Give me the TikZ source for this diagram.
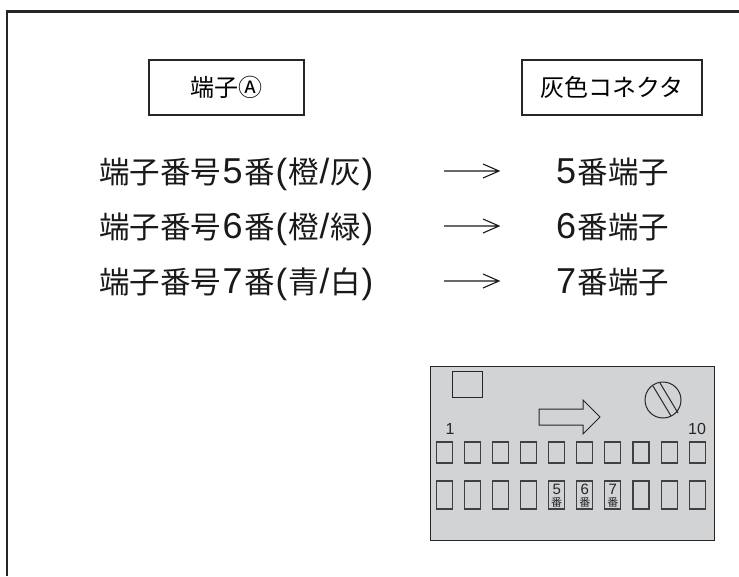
\documentclass[tikz,border=0pt]{standalone}
\usepackage{fontspec}
\setmainfont{Noto Sans CJK JP}
\newfontfamily\latinfont{Liberation Sans}
\newcommand{\dig}[1]{\kern1.5pt{\latinfont\fontsize{36}{36}\selectfont #1}\kern1.5pt}
\newcommand{\pun}[1]{\kern0.9pt{\latinfont\fontsize{35}{35}\selectfont #1}\kern0.9pt}
\definecolor{panelgrey}{HTML}{D2D3D5}
\tikzset{
  x=1pt,y=-1pt,
  frameline/.style={line width=2.6pt,draw=black!85},
  labelbox/.style={draw=black!85,line width=1.3pt,minimum height=55pt,inner sep=0pt,font=\fontsize{24}{26}\selectfont},
  maintext/.style={font=\fontsize{30.5}{32}\selectfont,text=black!90,inner sep=0pt,anchor=base west},
  lead/.style={draw=black!90,line width=1.1pt},
  part/.style={draw=black!85,line width=1pt},
  slot/.style={draw=black!75,line width=1.1pt,fill=panelgrey,inner sep=0pt,minimum width=16pt},
  tiny/.style={font=\latinfont\fontsize{16}{16}\selectfont,text=black!85,inner sep=0pt},
  slotnum/.style={font=\latinfont\fontsize{15}{15}\selectfont,text=black!85,inner sep=0pt},
  slotkan/.style={font=\fontsize{11}{11}\selectfont,text=black!85,inner sep=0pt},
}
\begin{document}
\begin{tikzpicture}
\useasboundingbox (0,0) rectangle (739,576);
\draw[frameline] (7,576) -- (7,11.5) -- (739,11.5);
\node[labelbox,minimum width=155pt] (a) at (226.5,87.5) {端子Ⓐ};
\node[labelbox,minimum width=180pt] (b) at (612,87.5) {灰色コネクタ};
\node[maintext] (l5) at (99,183.5) {端子番号\dig{5}番\pun{(}橙\pun{/}灰\pun{)}};
\node[maintext] (l6) at (99,238.5) {端子番号\dig{6}番\pun{(}橙\pun{/}緑\pun{)}};
\node[maintext] (l7) at (99,293.5) {端子番号\dig{7}番\pun{(}青\pun{/}白\pun{)}};
\node[maintext] (r5) at (554.5,183.5) {\dig{5}番端子};
\node[maintext] (r6) at (554.5,238.5) {\dig{6}番端子};
\node[maintext] (r7) at (554.5,293.5) {\dig{7}番端子};
\foreach \y in {171,226,281}{
  \draw[lead] (444,\y) -- (498,\y) (483,\y-7) -- (499,\y) -- (483,\y+7);
}
\draw[part,fill=panelgrey] (430,366) rectangle (714,540);
\draw[part] (452,371) rectangle (482,397);
\draw[part] (539,409) -- (583,409) -- (583,400) -- (600,417) -- (583,434) -- (583,425) -- (539,425) -- cycle;
\draw[part] (663,400) circle (18);
\draw[part] (653,386) -- (671,416) (660,383) -- (678,413);
\node[tiny] (n1) at (450,429) {1};
\node[tiny] (n10) at (697,429) {10};
\foreach \i in {0,...,9}{
  \pgfmathsetmacro{\cx}{444.3+28.1*\i}
  \node[slot,minimum height=21pt] (t\i) at (\cx,452.5) {};
  \node[slot,minimum height=28pt] (s\i) at (\cx,495) {};
}
\foreach \i/\n in {4/5,5/6,6/7}{
  \node[slotnum] at ([yshift=5.5pt]s\i.center) {\n};
  \node[slotkan] at ([yshift=-7pt]s\i.center) {番};
}
\end{tikzpicture}
\end{document}
